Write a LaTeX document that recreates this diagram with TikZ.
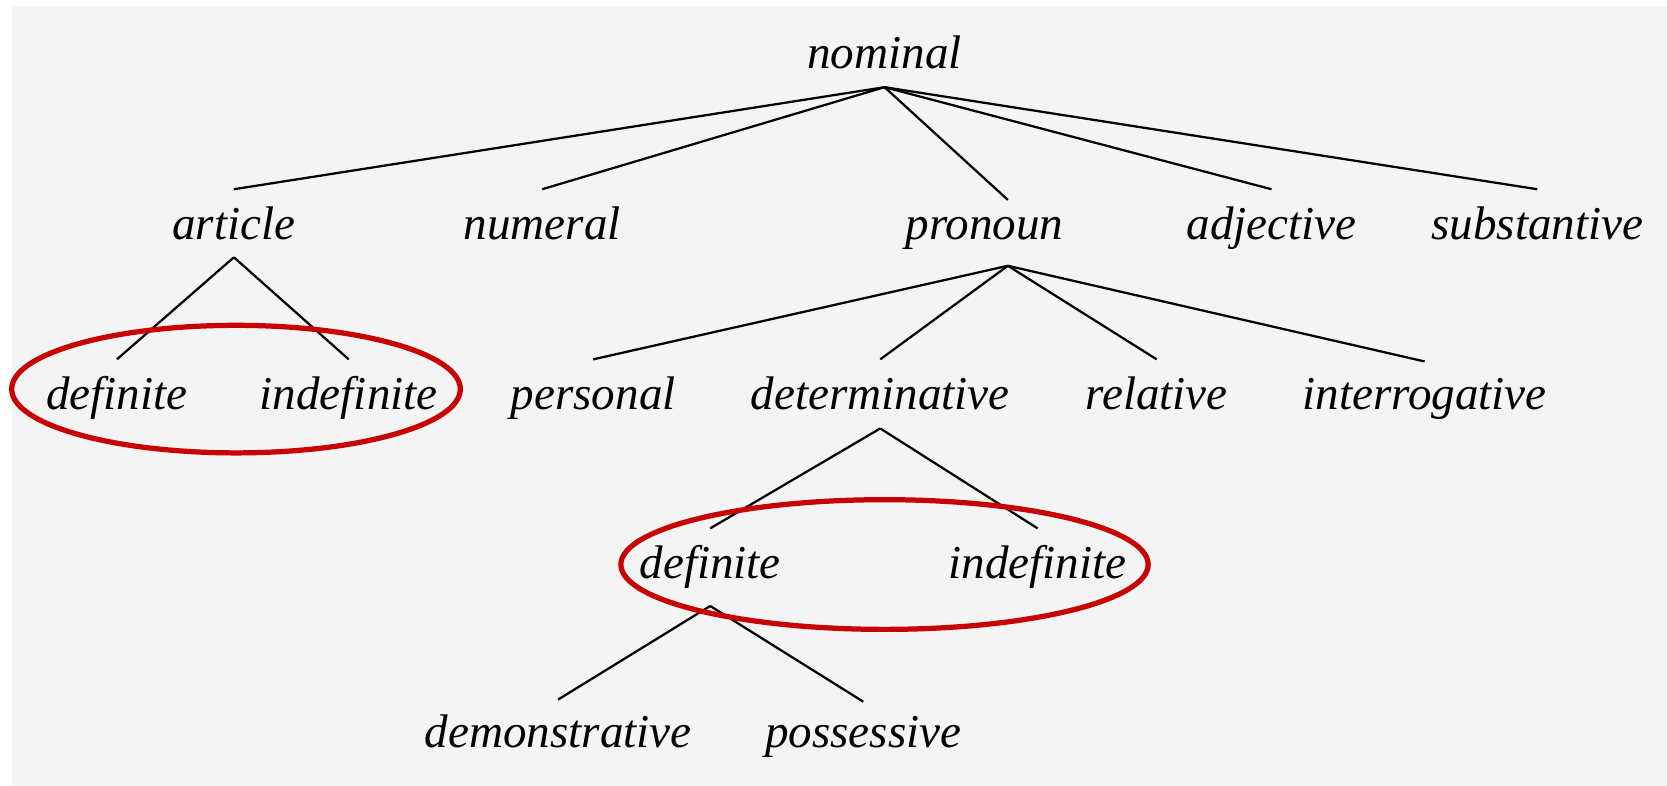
\documentclass[tikz,border=0pt]{standalone}
\usepackage{fontspec}
\setmainfont{Liberation Serif}
\definecolor{bggrey}{RGB}{244,244,244}
\definecolor{ringred}{RGB}{200,0,0}
\begin{document}
\begin{tikzpicture}[x=0.01cm,y=-0.01cm,
  lbl/.style={inner sep=0pt,anchor=base,font=\fontsize{12.6}{15}\selectfont\itshape},
  br/.style={draw=black,line width=0.6pt},
  ring/.style={draw=ringred,line width=1.4pt}]
\useasboundingbox (0,0) rectangle (1568,739);
\fill[white] (0,0) rectangle (1568,739);
\fill[bggrey] (11,6) rectangle (1568,739);
% labels
\node[lbl] (nom) at (832,64) {nominal};
\node[lbl] (art) at (220,225) {article};
\node[lbl] (num) at (510,225) {numeral};
\node[lbl] (pro) at (926,225) {pronoun};
\node[lbl] (adj) at (1196,225) {adjective};
\node[lbl] (sub) at (1446,225) {substantive};
\node[lbl] (def1) at (110,385) {definite};
\node[lbl] (ind1) at (328,385) {indefinite};
\node[lbl] (per) at (558,385) {personal};
\node[lbl] (det) at (828,385) {determinative};
\node[lbl] (rel) at (1088,385) {relative};
\node[lbl] (int) at (1340,385) {interrogative};
\node[lbl] (def2) at (668,544) {definite};
\node[lbl] (ind2) at (976,544) {indefinite};
\node[lbl] (dem) at (525,703) {demonstrative};
\node[lbl] (pos) at (812,703) {possessive};
% branch points
\coordinate (nomA) at (832,82);
\coordinate (artT) at (220,178);
\coordinate (numT) at (510,178);
\coordinate (proT) at (948,188);
\coordinate (adjT) at (1196,178);
\coordinate (subT) at (1446,178);
\coordinate (artA) at (220,242);
\coordinate (def1T) at (110,338);
\coordinate (ind1T) at (328,338);
\coordinate (proA) at (948,250);
\coordinate (perT) at (558,338);
\coordinate (detT) at (828,338);
\coordinate (relT) at (1088,338);
\coordinate (intT) at (1340,340);
\coordinate (detA) at (828,403);
\coordinate (def2T) at (668,497);
\coordinate (ind2T) at (976,497);
\coordinate (def2A) at (668,570);
\coordinate (demT) at (525,658);
\coordinate (posT) at (812,660);
\draw[br] (nomA) -- (artT);
\draw[br] (nomA) -- (numT);
\draw[br] (nomA) -- (proT);
\draw[br] (nomA) -- (adjT);
\draw[br] (nomA) -- (subT);
\draw[br] (artA) -- (def1T);
\draw[br] (artA) -- (ind1T);
\draw[br] (proA) -- (perT);
\draw[br] (proA) -- (detT);
\draw[br] (proA) -- (relT);
\draw[br] (proA) -- (intT);
\draw[br] (detA) -- (def2T);
\draw[br] (detA) -- (ind2T);
\draw[br] (def2A) -- (demT);
\draw[br] (def2A) -- (posT);
% circles
\draw[ring] (222,366) ellipse [x radius=211, y radius=60];
\draw[ring] (832,531) ellipse [x radius=248, y radius=61];
\end{tikzpicture}
\end{document}
